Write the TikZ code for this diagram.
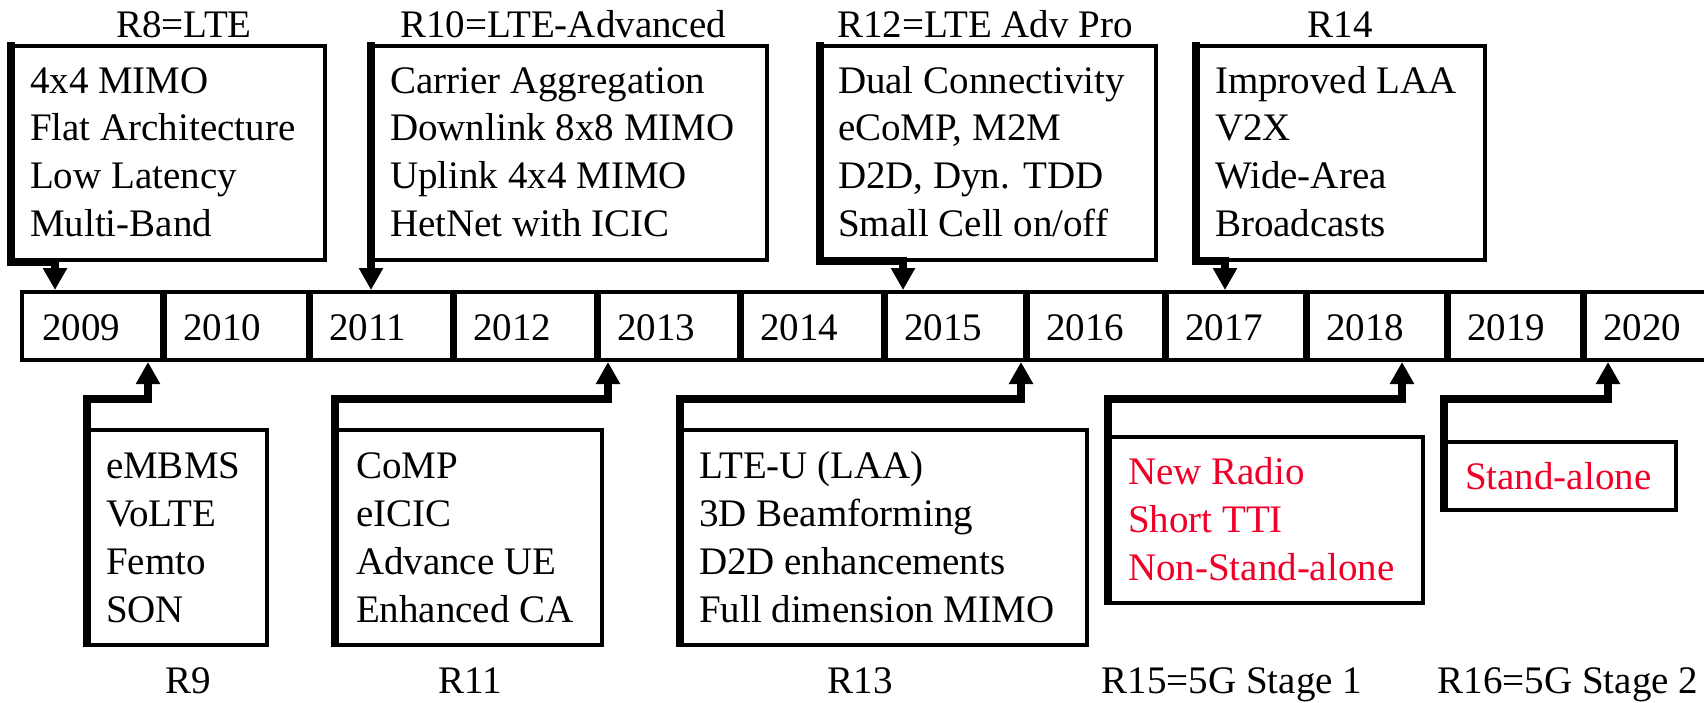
\documentclass[tikz,border=0pt]{standalone}
\usepackage{fontspec}
\setmainfont{Liberation Serif}
\usetikzlibrary{arrows.meta}
\definecolor{nrred}{RGB}{240,0,40}
\begin{document}
\begin{tikzpicture}[x=1pt,y=-1pt,
  every node/.style={font=\fontsize{39}{47}\selectfont, inner sep=0pt, outer sep=0pt},
  txt/.style={anchor=base west},
  ttl/.style={anchor=base},
  rbox/.style={draw, line width=3.5pt, anchor=north west, rectangle},
  cell/.style={draw, line width=4pt, anchor=north west, rectangle, minimum height=68pt},
  divider/.style={line width=7pt},
  conn/.style={line width=8pt, line join=miter, -{Triangle[length=22pt,width=23pt]}},
  redtxt/.style={txt, text=nrred}]
\useasboundingbox (0,0) rectangle (1704,702);
\fill[white] (0,0) rectangle (1704,702);
\clip (0,0) rectangle (1704,702);

% timeline cells
\foreach \yr/\xa/\xb in {2009/22/163,2010/163/309,2011/309/453,2012/453/597,2013/597/740,2014/740/884,2015/884/1026,2016/1026/1165,2017/1165/1306,2018/1306/1447,2019/1447/1583,2020/1583/1740}{
  \pgfmathsetmacro\w{\xb-\xa}
  \node[cell, minimum width=\w pt] (y\yr) at (\xa,292) {};
  \node[txt] (yt\yr) at (\xa+20,340) {\yr};
}
\foreach \yr in {2010,...,2020}{
  \draw[divider] ([yshift=2pt]y\yr.north west) -- ([yshift=-2pt]y\yr.south west);
}

% top boxes
\node[rbox, minimum width=314pt, minimum height=214pt] (b8) at (11,46) {};
\node[rbox, minimum width=396pt, minimum height=214pt] (b10) at (371,46) {};
\node[rbox, minimum width=336pt, minimum height=214pt] (b12) at (820,46) {};
\node[rbox, minimum width=289pt, minimum height=214pt] (b14) at (1196,46) {};

\node[ttl] (r8) at (184,37) {R8=LTE};
\node[ttl] (r10) at (563,37) {R10=LTE-Advanced};
\node[ttl] (r12) at (985,37) {R12=LTE Adv Pro};
\node[ttl] (r14) at (1340,37) {R14};

\foreach \s [count=\i from 0] in {4x4 MIMO,Flat Architecture,Low Latency,Multi-Band}
  \node[txt] (b8l\i) at (30,93+47.8*\i) {\s};
\foreach \s [count=\i from 0] in {Carrier Aggregation,Downlink 8x8 MIMO,Uplink 4x4 MIMO,HetNet with ICIC}
  \node[txt] (b10l\i) at (390,93+47.8*\i) {\s};
\foreach \s [count=\i from 0] in {Dual Connectivity,{eCoMP, M2M},{D2D, Dyn. TDD},Small Cell on/off}
  \node[txt] (b12l\i) at (838,93+47.8*\i) {\s};
\foreach \s [count=\i from 0] in {Improved LAA,V2X,Wide-Area,Broadcasts}
  \node[txt] (b14l\i) at (1215,93+47.8*\i) {\s};

% bottom boxes
\node[rbox, minimum width=180pt, minimum height=215pt] (b9) at (87,430) {};
\node[rbox, minimum width=267pt, minimum height=215pt] (b11) at (335,430) {};
\node[rbox, minimum width=407pt, minimum height=215pt] (b13) at (680,430) {};
\node[rbox, minimum width=315pt, minimum height=166pt] (b15) at (1108,437) {};
\node[rbox, minimum width=232pt, minimum height=68pt] (b16) at (1444,442) {};

\foreach \s [count=\i from 0] in {eMBMS,VoLTE,Femto,SON}
  \node[txt] (b9l\i) at (106,478+48.3*\i) {\s};
\foreach \s [count=\i from 0] in {CoMP,eICIC,Advance UE,Enhanced CA}
  \node[txt] (b11l\i) at (356,478+48.3*\i) {\s};
\foreach \s [count=\i from 0] in {LTE-U (LAA),3D Beamforming,D2D enhancements,Full dimension MIMO}
  \node[txt] (b13l\i) at (699,478+48.3*\i) {\s};
\foreach \s [count=\i from 0] in {New Radio,Short TTI,Non-Stand-alone}
  \node[redtxt] (b15l\i) at (1128,484+48*\i) {\s};
\node[redtxt] (b16l0) at (1465,489) {Stand-alone};

\node[ttl] (r9) at (188,693) {R9};
\node[ttl] (r11) at (470,693) {R11};
\node[ttl] (r13) at (860,693) {R13};
\node[ttl] (r15) at (1232,693) {R15=5G Stage 1};
\node[ttl] (r16) at (1568,693) {R16=5G Stage 2};

% connectors
\coordinate (e8) at (55,262);   \coordinate (t8) at (55,290);
\coordinate (t10) at (371,290);
\coordinate (e12) at (903,261); \coordinate (t12) at (903,290);
\coordinate (e14) at (1225,261);\coordinate (t14) at (1225,290);
\coordinate (e9) at (148,399);  \coordinate (t9) at (148,362);
\coordinate (e11) at (608,399); \coordinate (t11) at (608,362);
\coordinate (e13) at (1021,399);\coordinate (t13) at (1021,362);
\coordinate (e15) at (1402,399);\coordinate (t15) at (1402,362);
\coordinate (e16) at (1608,399);\coordinate (t16) at (1608,362);

\draw[conn] ([yshift=4pt]b8.north west) |- (e8) -- (t8);
\draw[conn] ([yshift=4pt]b10.north west) -- (t10);
\draw[conn] ([yshift=4pt]b12.north west) |- (e12) -- (t12);
\draw[conn] ([yshift=4pt]b14.north west) |- (e14) -- (t14);
\draw[conn] ([yshift=-2pt]b9.south west) |- (e9) -- (t9);
\draw[conn] ([yshift=-2pt]b11.south west) |- (e11) -- (t11);
\draw[conn] ([yshift=-2pt]b13.south west) |- (e13) -- (t13);
\draw[conn] ([yshift=-2pt]b15.south west) |- (e15) -- (t15);
\draw[conn] ([yshift=-2pt]b16.south west) |- (e16) -- (t16);
\end{tikzpicture}
\end{document}
